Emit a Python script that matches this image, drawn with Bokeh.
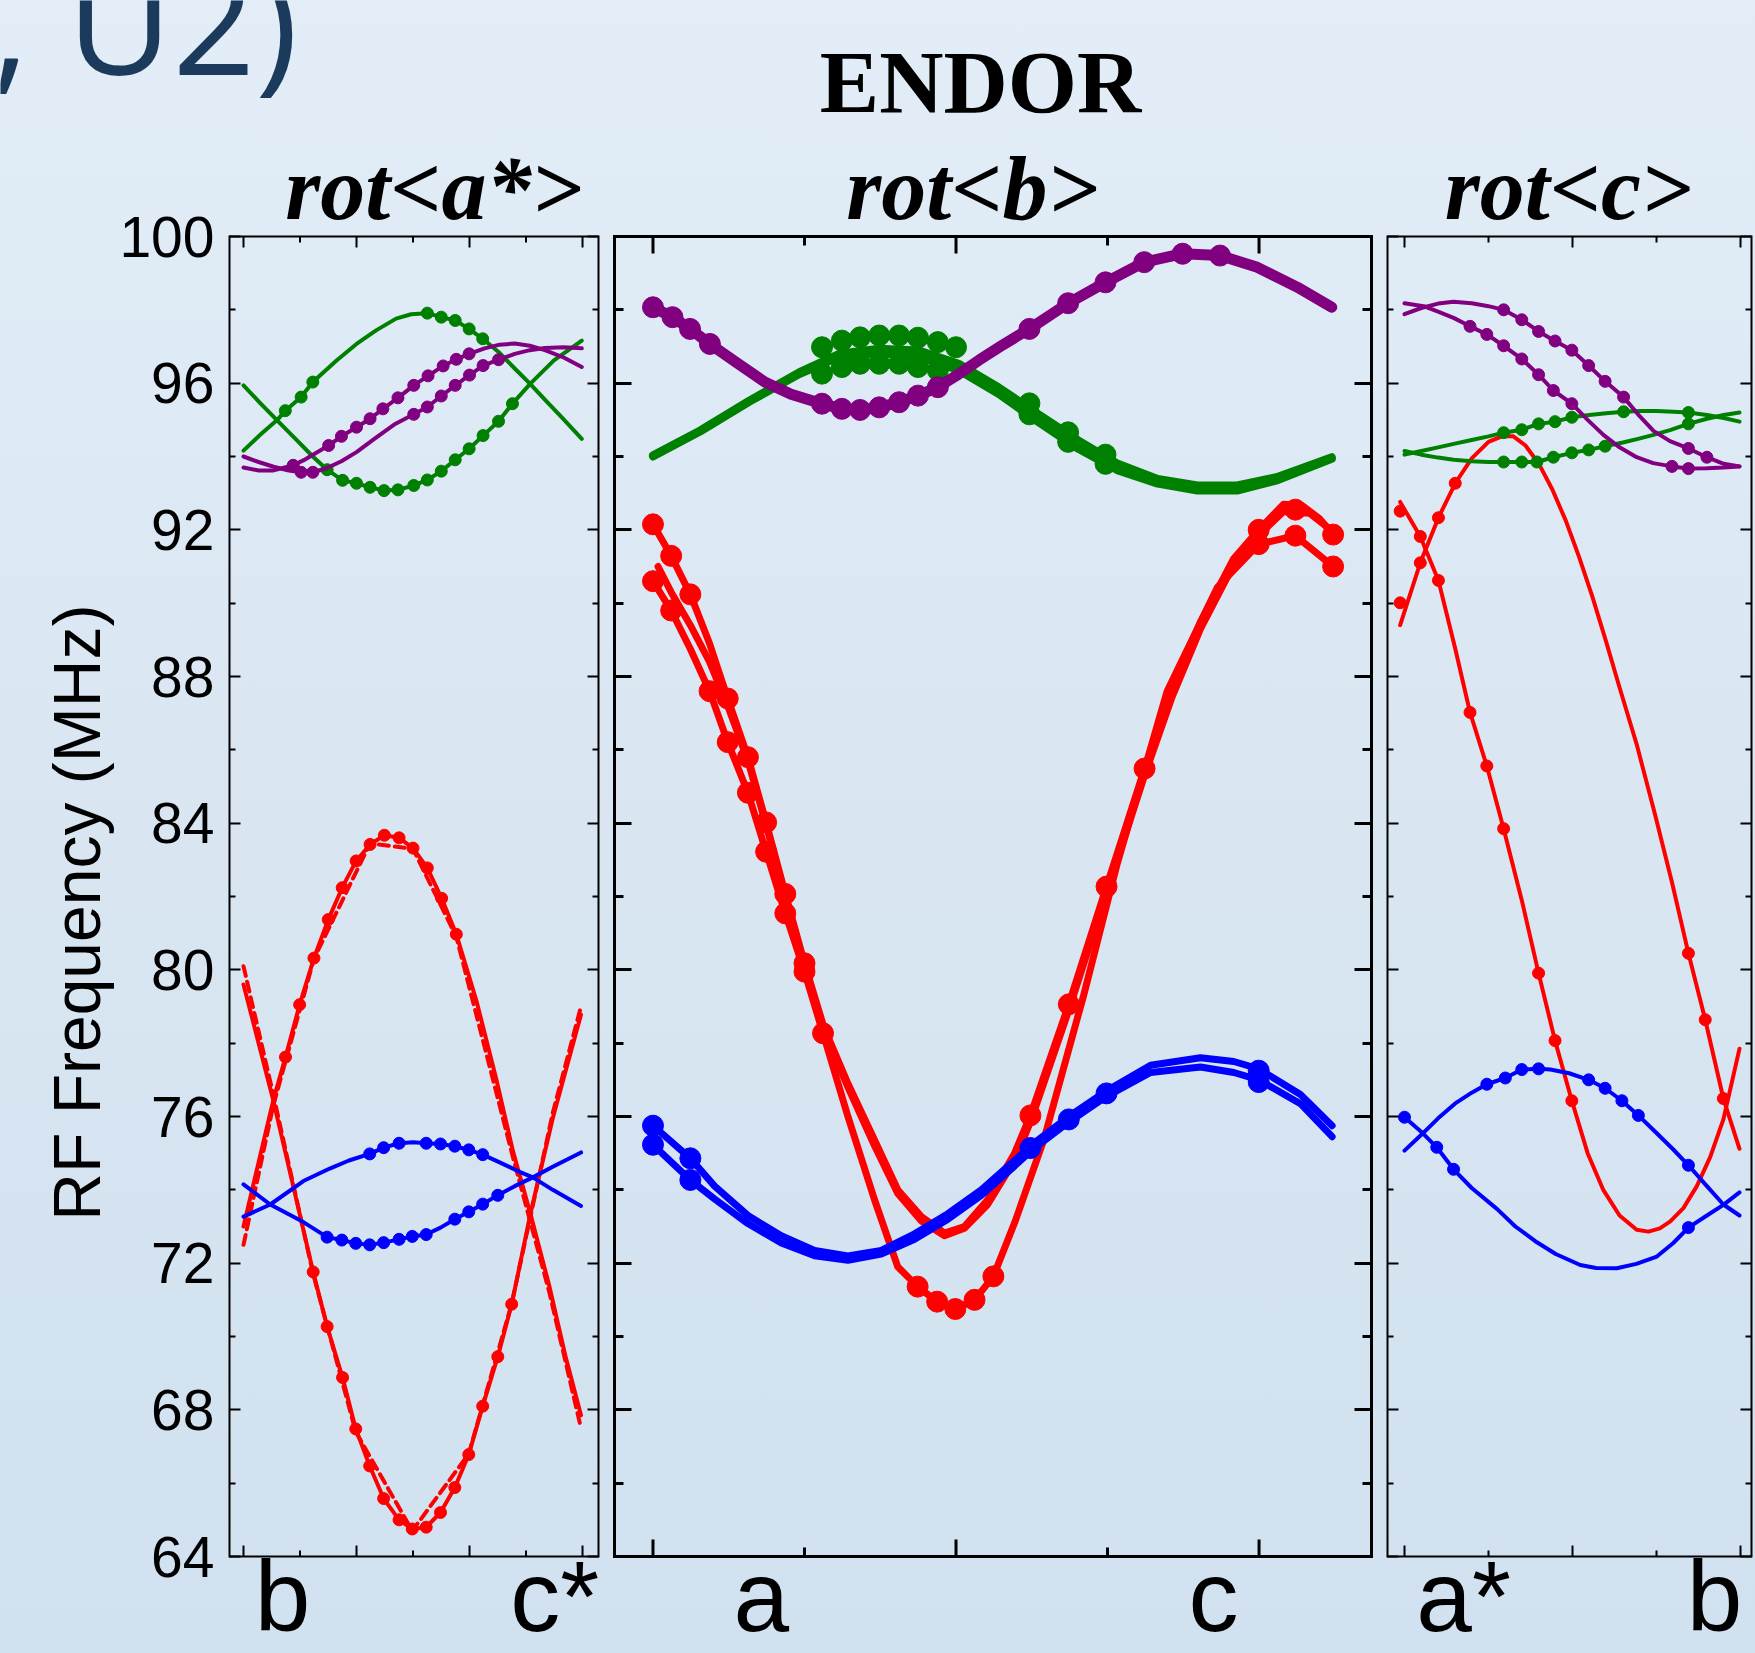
from math import pi
from bokeh.plotting import figure
from bokeh.models import Range1d, FixedTicker, LinearAxis, Span
from bokeh.layouts import row, column
from bokeh.embed import file_html
from bokeh.resources import INLINE
from bokeh.core.properties import value

# ---------------- data (angles in degrees, frequencies in MHz) ----------------
Y_MAJOR = [64, 68, 72, 76, 80, 84, 88, 92, 96, 100]
Y_MINOR = [66, 70, 74, 78, 82, 86, 90, 94, 98]
A_XMAJ, A_XMIN = [0, 30, 60, 90], [15, 45, 75]
B_XMAJ, B_XMIN = [0, 90, 180], [45, 135]
C_XMAJ, C_XMIN = [0, 50, 100], [25, 75]

# ---- rot<a*> panel ----
A_GA_x = [0, 4.5, 9, 14.2, 18.4, 22.2, 26.3, 30, 33.6, 37.3, 41, 45.2, 48.8, 52.5, 56.2, 59.9, 63.6, 67.7, 71.4, 76.1, 82.4, 89.8]
A_GA_y = [95.94, 95.45, 94.98, 94.44, 94.0, 93.64, 93.35, 93.27, 93.16, 93.07, 93.09, 93.21, 93.36, 93.6, 93.91, 94.21, 94.57, 94.96, 95.44, 95.98, 96.62, 97.16]
A_GA_dx = [22.2, 26.3, 30, 33.6, 37.3, 41, 45.2, 48.8, 52.5, 56.2, 59.9, 63.6, 67.7, 71.4]
A_GA_dy = [93.64, 93.35, 93.27, 93.16, 93.07, 93.09, 93.21, 93.36, 93.6, 93.91, 94.21, 94.57, 94.96, 95.44]
A_GB_x = [0, 4.5, 9, 11.1, 15.3, 18.4, 24.7, 30, 35.2, 40.5, 44.5, 48.8, 52.5, 56.2, 59.9, 63.5, 67.7, 72, 76.1, 80, 84.5, 89.8]
A_GB_y = [94.16, 94.6, 95.0, 95.25, 95.62, 96.03, 96.62, 97.07, 97.44, 97.76, 97.88, 97.91, 97.8, 97.71, 97.48, 97.21, 96.85, 96.4, 95.98, 95.55, 95.07, 94.48]
A_GB_dx = [11.1, 15.3, 18.4, 48.8, 52.5, 56.2, 59.9, 63.5]
A_GB_dy = [95.25, 95.62, 96.03, 97.91, 97.8, 97.71, 97.48, 97.21]
A_P1_x = [0, 4, 8, 13.2, 16, 19, 22.6, 26, 30, 33.6, 37, 41, 45.2, 49, 53, 56.5, 59.9, 64, 68, 72, 76, 80, 85, 89.8]
A_P1_y = [93.7, 93.62, 93.62, 93.76, 93.9, 94.08, 94.3, 94.55, 94.8, 95.03, 95.3, 95.6, 95.94, 96.2, 96.47, 96.65, 96.8, 96.95, 97.05, 97.08, 97.02, 96.9, 96.7, 96.44]
A_P1_dx = [13.2, 22.6, 26, 30, 33.6, 37, 41, 45.2, 49, 53, 56.5, 59.9]
A_P1_dy = [93.76, 94.3, 94.55, 94.8, 95.03, 95.3, 95.6, 95.94, 96.2, 96.47, 96.65, 96.8]
A_P2_x = [0, 4, 8, 12, 15.3, 18.4, 22, 26, 30, 35, 40, 45.2, 48.8, 52.5, 56.2, 60, 63.6, 67.7, 72, 76, 80, 85, 89.8]
A_P2_y = [94.0, 93.85, 93.72, 93.62, 93.57, 93.57, 93.68, 93.87, 94.12, 94.5, 94.87, 95.15, 95.35, 95.65, 95.94, 96.22, 96.48, 96.64, 96.8, 96.9, 96.96, 96.98, 96.95]
A_P2_dx = [15.3, 18.4, 45.2, 48.8, 52.5, 56.2, 60, 63.6, 67.7]
A_P2_dy = [93.57, 93.57, 95.15, 95.35, 95.65, 95.94, 96.22, 96.48, 96.64]
A_RU_x = [0, 3, 7.9, 13.2, 18.5, 22.2, 26.3, 29.8, 33.5, 37.2, 41.3, 44.8, 48.5, 52.3, 56.1, 59.8, 63.5, 67.5, 71.2, 76.3, 82.1, 89.6]
A_RU_y = [79.6, 78.4, 76.44, 74.1, 71.76, 70.27, 68.88, 67.48, 66.47, 65.58, 65.0, 64.75, 64.8, 65.2, 65.88, 66.78, 68.1, 69.45, 70.88, 73.41, 75.95, 78.78]
A_RU_dx = [18.5, 22.2, 26.3, 29.8, 33.5, 37.2, 41.3, 44.8, 48.5, 52.3, 56.1, 59.8, 63.5, 67.5, 71.2]
A_RU_dy = [71.76, 70.27, 68.88, 67.48, 66.47, 65.58, 65.0, 64.75, 64.8, 65.2, 65.88, 66.78, 68.1, 69.45, 70.88]
A_RUd_x = [0, 7.9, 18.5, 29.8, 44.8, 59.8, 71.2, 82.1, 89.6]
A_RUd_y = [80.1, 76.6, 71.7, 67.4, 64.7, 66.8, 70.9, 76.1, 79.0]
A_RA_x = [0, 4, 7.9, 11.15, 14.9, 18.7, 22.5, 26.2, 29.9, 33.6, 37.4, 41.3, 45, 48.8, 52.6, 56.5, 61.8, 67.1, 71.5, 76.3, 81.2, 85.6, 89.6]
A_RA_y = [73.0, 74.75, 76.44, 77.62, 79.05, 80.32, 81.37, 82.24, 82.97, 83.42, 83.67, 83.6, 83.32, 82.78, 81.95, 80.97, 79.17, 77.02, 75.07, 73.3, 71.37, 69.41, 67.85]
A_RA_dx = [11.15, 14.9, 18.7, 22.5, 26.2, 29.9, 33.6, 37.4, 41.3, 45, 48.8, 52.6, 56.5]
A_RA_dy = [77.62, 79.05, 80.32, 81.37, 82.24, 82.97, 83.42, 83.67, 83.6, 83.32, 82.78, 81.95, 80.97]
A_RAd_x = [0, 7.9, 18.7, 33.6, 45, 56.5, 71.5, 81.2, 89.6]
A_RAd_y = [72.5, 76.3, 80.3, 83.45, 83.3, 80.9, 74.9, 71.2, 67.5]
A_BA_x = [0, 7.1, 15.9, 22.9, 28, 33.5, 37.2, 41.3, 45, 48.5, 52.3, 56.1, 59.8, 63.5, 68, 73.3, 76.8, 82.1, 89.6]
A_BA_y = [73.27, 73.6, 74.24, 74.58, 74.8, 74.98, 75.15, 75.27, 75.3, 75.27, 75.25, 75.19, 75.09, 74.96, 74.75, 74.49, 74.34, 74.0, 73.56]
A_BA_dx = [33.5, 37.2, 41.3, 48.5, 52.3, 56.1, 59.8, 63.5]
A_BA_dy = [74.98, 75.15, 75.27, 75.27, 75.25, 75.19, 75.09, 74.96]
A_BU_x = [0, 7.1, 15.9, 22.2, 26.1, 29.8, 33.5, 37.2, 41.3, 44.8, 48.5, 52.3, 56.1, 59.8, 63.5, 67.5, 72, 76.8, 82.1, 89.6]
A_BU_y = [74.15, 73.6, 73.12, 72.71, 72.63, 72.54, 72.5, 72.56, 72.65, 72.73, 72.78, 72.97, 73.2, 73.4, 73.61, 73.85, 74.1, 74.34, 74.63, 75.02]
A_BU_dx = [22.2, 26.1, 29.8, 33.5, 37.2, 41.3, 44.8, 48.5, 56.1, 59.8, 63.5, 67.5]
A_BU_dy = [72.71, 72.63, 72.54, 72.5, 72.56, 72.65, 72.73, 72.78, 73.2, 73.4, 73.61, 73.85]

# ---- rot<b> panel ----
B_P_x = [0, 5.8, 11, 16.9, 25, 33.2, 41, 50.2, 56.1, 61.5, 67.2, 73.1, 78.7, 84.6, 90, 96.7, 104, 111.8, 123.3, 134.4, 145.9, 157.3, 168.4, 179.5, 191.3, 201.6]
B_P_y = [98.07, 97.8, 97.48, 97.07, 96.55, 96.03, 95.7, 95.44, 95.3, 95.27, 95.34, 95.48, 95.66, 95.89, 96.2, 96.62, 97.05, 97.48, 98.18, 98.75, 99.3, 99.53, 99.48, 99.16, 98.62, 98.07]
B_P_dx = [0, 5.8, 11, 16.9, 50.2, 56.1, 61.5, 67.2, 73.1, 78.7, 84.6, 111.8, 123.3, 134.4, 145.9, 157.3, 168.4]
B_P_dy = [98.07, 97.8, 97.48, 97.07, 95.44, 95.3, 95.27, 95.34, 95.48, 95.66, 95.89, 97.48, 98.18, 98.75, 99.3, 99.53, 99.48]
B_G_x = [0, 14, 28.7, 43.5, 55.3, 67.2, 79, 90.8, 102.6, 114.4, 126.3, 138.1, 149.9, 161.7, 173.5, 185.4, 201.6]
B_GA_y = [94.03, 94.71, 95.53, 96.3, 96.8, 96.94, 96.89, 96.53, 95.89, 95.16, 94.44, 93.8, 93.39, 93.21, 93.21, 93.44, 93.98]
B_GB_y = [94.0, 94.68, 95.5, 96.25, 96.72, 96.82, 96.72, 96.35, 95.71, 94.94, 94.21, 93.62, 93.26, 93.07, 93.07, 93.35, 93.94]
B_G_dx = [50.2, 56.1, 61.5, 67.2, 73.1, 78.7, 84.6, 90, 50.2, 56.1, 61.5, 67.2, 73.1, 78.7, 84.6, 111.8, 111.8, 123.3, 123.3, 134.4, 134.4]
B_G_dy = [96.98, 97.16, 97.25, 97.3, 97.3, 97.24, 97.12, 96.98, 96.26, 96.44, 96.53, 96.53, 96.53, 96.44, 96.35, 95.45, 95.15, 94.66, 94.4, 94.05, 93.8]
B_RA_x = [0, 5.4, 11.1, 16.8, 22.2, 28.2, 33.6, 39.3, 45, 50.5, 57.9, 65.8, 72.7, 78.6, 84.4, 89.8, 95.5, 101.1, 107.4, 116.1, 127.9, 137.9, 152.7, 167.6, 179.9, 190.8, 202]
B_RA_y = [90.6, 89.8, 88.75, 87.6, 86.21, 84.83, 83.22, 81.54, 79.95, 78.27, 76.0, 73.73, 71.9, 71.36, 70.95, 70.75, 71.0, 71.64, 73.1, 75.37, 79.3, 82.9, 87.6, 90.43, 91.61, 91.84, 91.0]
B_RA_dx = [0, 5.4, 16.8, 22.2, 28.2, 33.6, 39.3, 45, 50.5, 78.6, 84.4, 89.8, 95.5, 101.1, 179.9, 190.8, 202]
B_RA_dy = [90.6, 89.8, 87.6, 86.21, 84.83, 83.22, 81.54, 79.95, 78.27, 71.36, 70.95, 70.75, 71.0, 71.64, 91.61, 91.84, 91.0]
B_RB_x = [0, 5.4, 11.1, 16.8, 22.2, 28.2, 33.6, 39.3, 45, 50.7, 57.9, 65.8, 72.7, 79.7, 86.6, 92.5, 99.4, 107.4, 112.1, 123.5, 134.7, 146, 154, 162.6, 172.5, 179.9, 187.3, 193, 198, 202]
B_RB_y = [92.15, 91.29, 90.24, 88.9, 87.4, 85.8, 84.02, 82.07, 80.18, 78.45, 76.9, 75.36, 74.0, 73.27, 72.82, 73.0, 73.73, 75.0, 76.03, 79.06, 82.27, 85.49, 87.6, 89.49, 91.22, 92.0, 92.7, 92.65, 92.3, 91.87]
B_RB_dx = [0, 5.4, 11.1, 22.2, 28.2, 33.6, 39.3, 45, 112.1, 123.5, 134.7, 146, 179.9, 190.8, 202]
B_RB_dy = [92.15, 91.29, 90.24, 87.4, 85.8, 84.02, 82.07, 80.18, 76.03, 79.06, 82.27, 85.49, 92.0, 92.55, 91.87]
B_RC_x = [1.5, 5.4, 11.1, 16.8, 22.2, 28.2, 33.6, 39.3, 45, 50.7, 57.9, 65.8, 72.7, 79.7, 86.6, 92.5, 99.4, 107.4, 112.1, 123.5, 134.7, 146, 154, 162.6, 172.5, 179.9, 187.3, 195, 202]
B_RC_y = [91.0, 90.3, 89.4, 88.4, 87.2, 85.7, 83.95, 82.0, 80.1, 78.35, 76.8, 75.2, 73.9, 73.15, 72.75, 72.95, 73.6, 74.8, 75.85, 78.9, 82.1, 85.3, 87.4, 89.3, 91.05, 91.85, 92.5, 92.45, 91.95]
B_B1_x = [0, 11.1, 18.3, 28.2, 38.1, 48, 57.9, 67.8, 77.7, 87.6, 97.5, 107.4, 112.1, 123.5, 134.7, 147.8, 162.6, 172.5, 179.9, 192.3, 201.7]
B_B1_y = [75.75, 74.86, 74.1, 73.3, 72.75, 72.35, 72.2, 72.35, 72.8, 73.35, 74.0, 74.8, 75.2, 76.0, 76.7, 77.4, 77.6, 77.5, 77.3, 76.6, 75.75]
B_B2_y = [75.23, 74.27, 73.75, 73.08, 72.55, 72.2, 72.08, 72.25, 72.65, 73.2, 73.85, 74.65, 75.05, 75.85, 76.55, 77.2, 77.35, 77.2, 77.0, 76.35, 75.45]
B_B_dx = [0, 11.1, 112.1, 123.5, 134.7, 179.9, 0, 11.1, 179.9]
B_B_dy = [75.75, 74.86, 75.14, 75.92, 76.63, 77.25, 75.23, 74.27, 76.94]

# ---- rot<c> panel ----
C_Q1_x = [0, 5, 10, 14.6, 20, 25, 29.5, 34.9, 39.9, 44.8, 49.8, 54.8, 59.7, 65.2, 69.5, 74.1, 79, 84.5, 90, 95, 99.7]
C_Q1_y = [97.88, 98.05, 98.17, 98.22, 98.18, 98.1, 98.0, 97.73, 97.41, 97.15, 96.9, 96.48, 96.05, 95.62, 95.15, 94.7, 94.42, 94.22, 93.98, 93.8, 93.73]
C_Q1_dx = [29.5, 34.9, 39.9, 44.8, 49.8, 54.8, 59.7, 65.2, 84.5, 90]
C_Q1_dy = [98.0, 97.73, 97.41, 97.15, 96.9, 96.48, 96.05, 95.62, 94.22, 93.98]
C_Q2_x = [0, 5.7, 10, 14.6, 19.5, 24.5, 29.5, 34.9, 39.9, 44.3, 49.8, 54.5, 59.2, 64, 69.1, 74, 79.6, 84.5, 90, 95, 99.7]
C_Q2_y = [98.18, 98.1, 97.95, 97.78, 97.55, 97.33, 97.02, 96.66, 96.23, 95.8, 95.44, 95.0, 94.59, 94.25, 93.98, 93.82, 93.73, 93.67, 93.68, 93.7, 93.73]
C_Q2_dx = [19.5, 24.5, 29.5, 34.9, 39.9, 44.3, 49.8, 79.6, 84.5]
C_Q2_dy = [97.55, 97.33, 97.02, 96.66, 96.23, 95.8, 95.44, 93.73, 93.67]
C_G1_x = [0, 5, 10, 15, 20, 25, 29.5, 34.9, 39.9, 44.8, 49.8, 55, 60, 65.2, 70, 75, 80, 84.5, 90, 95, 99.7]
C_G1_y = [94.05, 94.15, 94.25, 94.35, 94.45, 94.55, 94.65, 94.73, 94.89, 94.95, 95.07, 95.13, 95.18, 95.22, 95.24, 95.24, 95.22, 95.2, 95.13, 95.05, 94.95]
C_G1_dx = [29.5, 34.9, 39.9, 44.8, 49.8, 65.2, 84.5]
C_G1_dy = [94.65, 94.73, 94.89, 94.95, 95.07, 95.22, 95.2]
C_G2_x = [0, 5, 10, 14.6, 20, 25, 29.5, 34.9, 39.4, 44.3, 49.8, 54.8, 59.7, 65, 69.5, 74.1, 79, 84.5, 90, 95, 99.7]
C_G2_y = [94.15, 94.05, 93.97, 93.91, 93.87, 93.85, 93.85, 93.85, 93.85, 93.98, 94.1, 94.18, 94.28, 94.38, 94.48, 94.59, 94.72, 94.89, 95.03, 95.13, 95.2]
C_G2_dx = [29.5, 34.9, 39.4, 44.3, 49.8, 54.8, 59.7, 84.5]
C_G2_dy = [93.85, 93.85, 93.85, 93.98, 94.1, 94.18, 94.28, 94.89]
C_R1_x = [-1.3, 4.7, 10.1, 15, 19.5, 24.5, 29.5, 34.9, 39.9, 44.8, 49.8, 54.5, 59.2, 64, 69.1, 72.6, 76, 79.1, 83, 87, 91, 94.9, 99.7]
C_R1_y = [92.76, 91.82, 90.62, 88.8, 87.02, 85.56, 83.85, 81.9, 79.91, 78.07, 76.43, 75.0, 73.99, 73.3, 72.91, 72.86, 72.95, 73.14, 73.5, 74.1, 74.9, 75.92, 77.85]
C_R1_dx = [-1.3, 4.7, 10.1, 19.5, 24.5, 29.5, 39.9, 44.8, 49.8]
C_R1_dy = [92.51, 91.82, 90.62, 87.02, 85.56, 83.85, 79.91, 78.07, 76.43]
C_R2_x = [-1.3, 4.7, 10.1, 15.1, 20, 25, 29, 32.4, 36, 40, 44, 48, 52, 56, 60, 64, 69.1, 74.6, 79.6, 84.5, 89.5, 94.9, 99.7]
C_R2_y = [89.4, 91.1, 92.33, 93.27, 93.95, 94.4, 94.55, 94.55, 94.3, 93.8, 93.1, 92.25, 91.25, 90.15, 88.95, 87.7, 86.15, 84.22, 82.39, 80.45, 78.64, 76.49, 75.12]
C_R2_dx = [-1.3, 4.7, 10.1, 15.1, 84.5, 89.5, 94.9]
C_R2_dy = [90.01, 91.1, 92.33, 93.27, 80.45, 78.64, 76.49]
C_B1_x = [0, 5, 10, 15, 20, 24.5, 30, 34.9, 39.9, 43.4, 49, 54.8, 59.7, 64.7, 69.6, 75, 80, 84.5, 90, 94.9, 99.7]
C_B1_y = [75.07, 75.5, 75.95, 76.35, 76.65, 76.88, 77.05, 77.28, 77.3, 77.28, 77.18, 77.0, 76.77, 76.43, 76.03, 75.55, 75.1, 74.67, 74.1, 73.6, 73.3]
C_B1_dx = [24.5, 30, 34.9, 39.9, 54.8, 59.7, 64.7, 69.6, 84.5]
C_B1_dy = [76.88, 77.05, 77.28, 77.3, 77.0, 76.77, 76.43, 76.03, 74.67]
C_B2_x = [0, 4.8, 9.6, 14.6, 20, 27.5, 33, 39.4, 45, 52.3, 57, 63.2, 69, 75.1, 80, 84.5, 90, 94.9, 99.7]
C_B2_y = [75.98, 75.6, 75.16, 74.56, 74.05, 73.48, 73.0, 72.57, 72.25, 71.95, 71.87, 71.86, 71.98, 72.18, 72.55, 72.97, 73.3, 73.59, 73.93]
C_B2_dx = [0, 9.6, 14.6, 84.5]
C_B2_dy = [75.98, 75.16, 74.56, 72.97]

PANEL_TITLES = ["rot<a*>", "rot<b>", "rot<c>"]
AXIS_LETTERS = [["b", "c*"], ["a", "c"], ["a*", "b"]]
Y_TITLE = "RF Frequency (MHz)"
MAIN_TITLE = "ENDOR"
CORNER_TEXT = ", U2)"

# ---------------- geometry & styling ----------------
BG = "#d9e6f2"
BG_GRAD = "linear-gradient(to bottom, #e2edf7 0%, #d9e6f2 50%, #d1e1ef 100%)"
RED, GREEN, PURPLE, BLUE = "#ff0000", "#008000", "#800080", "#0000ff"
HEAD_H = 134                   # header strip height (px)
PANEL_H = 1653 - HEAD_H        # panel canvas height (px)
PX_PER_MHZ = 1320 / 36.0       # 64..100 MHz spans 1320 px
Y_TOP = 100 + (236 - HEAD_H) / PX_PER_MHZ
Y_BOT = 100 - (1653 - 236) / PX_PER_MHZ
LBL_Y = 100 - (1595 - 236) / PX_PER_MHZ   # anchor of crystal-axis letters
TTL_Y = 100 + (236 - 188) / PX_PER_MHZ    # anchor of panel titles


def base_fig(fw, fh, xr, yr, mbl=0, mbr=0):
    return figure(frame_width=fw, frame_height=fh, x_range=xr, y_range=yr,
                  output_backend="svg", toolbar_location=None, min_border_left=mbl,
                  min_border_right=mbr, min_border_top=0, min_border_bottom=0,
                  background_fill_color=BG, border_fill_color=BG,
                  background_fill_alpha=0, border_fill_alpha=0, outline_line_color=None,
                  x_axis_type=None, y_axis_type=None)


def frame_box(p, xt, xm, big, small, lw, ylab=False):
    for side in ("left", "right"):
        ax = LinearAxis(ticker=FixedTicker(ticks=Y_MAJOR, minor_ticks=Y_MINOR), bounds=(64, 100))
        ax.axis_line_width = lw
        ax.axis_line_color = "black"
        ax.axis_line_cap = "square"
        ax.major_tick_in = big
        ax.major_tick_out = 0
        ax.minor_tick_in = small
        ax.minor_tick_out = 0
        ax.major_tick_line_width = lw
        ax.minor_tick_line_width = lw
        ax.major_tick_line_color = "black"
        ax.minor_tick_line_color = "black"
        if ylab and side == "left":
            ax.major_label_text_font = "Liberation Sans"
            ax.major_label_text_font_size = "57px"
            ax.major_label_text_color = "black"
            ax.major_label_standoff = 15
        else:
            ax.major_label_text_font_size = "0px"
            ax.major_label_text_color = None
            ax.major_label_standoff = 0
        p.add_layout(ax, side)
    for loc in (100, 64):
        p.add_layout(Span(location=loc, dimension="width", line_color="black", line_width=lw))
    for ticks, L in ((xt, big), (xm, small)):
        d = L / PX_PER_MHZ
        n = len(ticks)
        p.segment(x0=ticks, y0=[100] * n, x1=ticks, y1=[100 - d] * n, line_color="black", line_width=lw)
        p.segment(x0=ticks, y0=[64] * n, x1=ticks, y1=[64 + d] * n, line_color="black", line_width=lw)


def ln(p, xs, ys, c, w, dash=None):
    kw = dict(line_color=c, line_width=w, line_join="round", line_cap="round")
    if dash:
        kw["line_dash"] = dash
    p.line(xs, ys, **kw)


def dt(p, xs, ys, c, s):
    p.scatter(xs, ys, marker="circle", size=s, fill_color=c, line_color=c)


def txt(p, xs, ys, ts, size, font="Liberation Sans", style="normal", color="black", align="center", angle=0.0):
    p.text(x=xs, y=ys, text=ts, text_font=value(font), text_font_size=value(size),
           text_font_style=style, text_color=color, text_align=align,
           text_baseline="alphabetic", angle=angle)


# ---------------- header strip ----------------
ph = base_fig(1755, HEAD_H, Range1d(0, 1755), Range1d(HEAD_H, 0))
txt(ph, [980], [81], [MAIN_TITLE], "89px", "Liberation Serif", "bold")
txt(ph, [-9], [18], [CORNER_TEXT], "145px", "Open Sans", "normal", "#1b3a5c", "left")

# ---------------- y title strip ----------------
YR = Range1d(Y_BOT, Y_TOP)
pl = base_fig(116, PANEL_H, Range1d(0, 116), YR)
txt(pl, [76], [81.56], [Y_TITLE], "66px", angle=pi / 2)

# ---------------- panel 1: rot<a*> ----------------
p1 = base_fig(369, PANEL_H, Range1d(-3.716, 94.24), YR, 113, 8)
LW1, DS1 = 4, 12
ln(p1, A_RUd_x, A_RUd_y, RED, LW1, "10 6")
ln(p1, A_RAd_x, A_RAd_y, RED, LW1, "10 6")
ln(p1, A_RU_x, A_RU_y, RED, LW1)
ln(p1, A_RA_x, A_RA_y, RED, LW1)
dt(p1, A_RU_dx, A_RU_dy, RED, DS1)
dt(p1, A_RA_dx, A_RA_dy, RED, DS1)
ln(p1, A_GA_x, A_GA_y, GREEN, LW1)
ln(p1, A_GB_x, A_GB_y, GREEN, LW1)
dt(p1, A_GA_dx, A_GA_dy, GREEN, DS1)
dt(p1, A_GB_dx, A_GB_dy, GREEN, DS1)
ln(p1, A_P1_x, A_P1_y, PURPLE, LW1)
ln(p1, A_P2_x, A_P2_y, PURPLE, LW1)
dt(p1, A_P1_dx, A_P1_dy, PURPLE, DS1)
dt(p1, A_P2_dx, A_P2_dy, PURPLE, DS1)
ln(p1, A_BA_x, A_BA_y, BLUE, LW1)
ln(p1, A_BU_x, A_BU_y, BLUE, LW1)
dt(p1, A_BA_dx, A_BA_dy, BLUE, DS1)
dt(p1, A_BU_dx, A_BU_dy, BLUE, DS1)
frame_box(p1, A_XMAJ, A_XMIN, 11, 6, 2, ylab=True)
txt(p1, [50.6], [TTL_Y], [PANEL_TITLES[0]], "90px", "Liberation Serif", "bold italic")
txt(p1, [10.4, 82.6], [LBL_Y, LBL_Y], AXIS_LETTERS[0], "100px")

# ---------------- panel 2: rot<b> ----------------
p2 = base_fig(757, PANEL_H, Range1d(-11.43, 213.4), YR, 8, 8)
LW2, DS2 = 7, 21
ln(p2, B_RA_x, B_RA_y, RED, LW2)
ln(p2, B_RB_x, B_RB_y, RED, LW2)
ln(p2, B_RC_x, B_RC_y, RED, LW2)
dt(p2, B_RA_dx, B_RA_dy, RED, DS2)
dt(p2, B_RB_dx, B_RB_dy, RED, DS2)
ln(p2, B_G_x, B_GA_y, GREEN, 8)
ln(p2, B_G_x, B_GB_y, GREEN, 8)
dt(p2, B_G_dx, B_G_dy, GREEN, DS2)
ln(p2, B_P_x, B_P_y, PURPLE, 11)
dt(p2, B_P_dx, B_P_dy, PURPLE, DS2)
ln(p2, B_B1_x, B_B1_y, BLUE, LW2)
ln(p2, B_B1_x, B_B2_y, BLUE, LW2)
dt(p2, B_B_dx, B_B_dy, BLUE, DS2)
frame_box(p2, B_XMAJ, B_XMIN, 17, 9, 3)
txt(p2, [94.9], [TTL_Y], [PANEL_TITLES[1]], "90px", "Liberation Serif", "bold italic")
txt(p2, [32.2, 166.5], [LBL_Y, LBL_Y], AXIS_LETTERS[1], "100px")

# ---------------- panel 3: rot<c> ----------------
p3 = base_fig(364, PANEL_H, Range1d(-5.06, 103.27), YR, 8, 4)
LW3, DS3 = 4, 12
ln(p3, C_R1_x, C_R1_y, RED, LW3)
ln(p3, C_R2_x, C_R2_y, RED, LW3)
dt(p3, C_R1_dx, C_R1_dy, RED, DS3)
dt(p3, C_R2_dx, C_R2_dy, RED, DS3)
ln(p3, C_G1_x, C_G1_y, GREEN, LW3)
ln(p3, C_G2_x, C_G2_y, GREEN, LW3)
dt(p3, C_G1_dx, C_G1_dy, GREEN, DS3)
dt(p3, C_G2_dx, C_G2_dy, GREEN, DS3)
ln(p3, C_Q1_x, C_Q1_y, PURPLE, LW3)
ln(p3, C_Q2_x, C_Q2_y, PURPLE, LW3)
dt(p3, C_Q1_dx, C_Q1_dy, PURPLE, DS3)
dt(p3, C_Q2_dx, C_Q2_dy, PURPLE, DS3)
ln(p3, C_B1_x, C_B1_y, BLUE, LW3)
ln(p3, C_B2_x, C_B2_y, BLUE, LW3)
dt(p3, C_B1_dx, C_B1_dy, BLUE, DS3)
dt(p3, C_B2_dx, C_B2_dy, BLUE, DS3)
frame_box(p3, C_XMAJ, C_XMIN, 11, 6, 2)
txt(p3, [48.8], [TTL_Y], [PANEL_TITLES[2]], "90px", "Liberation Serif", "bold italic")
txt(p3, [17.6, 92.3], [LBL_Y, LBL_Y], AXIS_LETTERS[2], "100px")

body = row(pl, p1, p2, p3, spacing=0)
layout = column(ph, body, spacing=0, styles={"background": BG_GRAD, "background-color": BG})
open("out.html", "w").write(file_html(layout, INLINE))
